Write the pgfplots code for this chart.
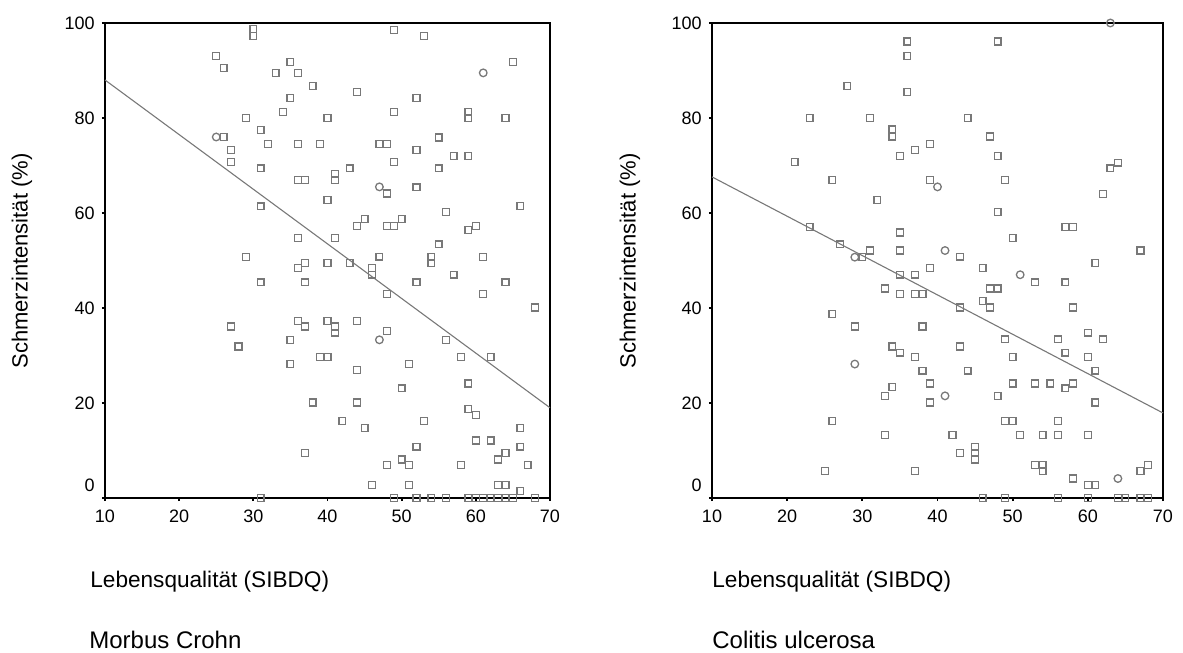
\documentclass[border=0pt]{standalone}
\usepackage{fontspec}
\setmainfont{Liberation Sans}
\usepackage{pgfplots}
\pgfplotsset{compat=1.18}

\definecolor{markgray}{RGB}{120,120,120}

% common look of both panels
\pgfplotsset{
  spss/.style={
    scale only axis,
    anchor=south west,
    height=237.5pt,
    xmin=10, xmax=70, ymin=0, ymax=100,
    xtick={10,20,...,70},
    ytick={20,40,60,80,100},
    extra y ticks={0},
    extra y tick style={yticklabel style={yshift=6.5pt}},
    tick pos=left,
    tick align=outside,
    major tick length=1.6pt,
    tick style={black, line width=0.9pt},
    axis line style={black, line width=0.9pt},
    tick label style={font=\fontsize{9}{10}\selectfont},
    /pgf/number format/assume math mode=true,
    xticklabel style={yshift=-1pt},
    clip=false,
  },
  sq/.style={only marks, mark=square, mark size=1.7pt, markgray, line width=0.65pt},
  ci/.style={only marks, mark=o, mark size=1.9pt, markgray, line width=0.65pt},
  fit/.style={no marks, markgray, line width=0.55pt},
}

\begin{document}
\begin{tikzpicture}
\path[use as bounding box] (0,0) rectangle (591.5pt,326.5pt);

% ---------- Morbus Crohn ----------
\begin{axis}[spss, at={(52.5pt,77.5pt)}, width=222.5pt]
\addplot[sq] coordinates {
(30,98.7) (30,97.3) (25,93) (26,90.5) (33,89.5) (35,91.8) (36,89.5) (38,86.7)
(35,84.2) (34,81.3) (29,80) (40,80) (26,76) (27,73.3) (27,70.7) (31,77.5)
(32,74.5) (36,74.5) (39,74.5) (31,69.4) (36,66.9) (37,66.9) (41,68.3) (41,66.9)
(40,62.7) (31,61.4) (36,54.7) (41,54.7)
(49,98.5) (53,97.3) (44,85.5) (52,84.2) (49,81.3) (59,81.3) (59,80) (64,80)
(65,91.8) (47,74.5) (48,74.5) (52,73.3) (55,75.9) (57,72) (59,72) (49,70.7)
(55,69.4) (43,69.4) (48,64.1) (52,65.4) (56,60.2) (66,61.5) (44,57.3) (45,58.7)
(48,57.3) (49,57.3) (50,58.7) (59,56.4) (60,57.3) (55,53.4) (47,50.8) (54,50.8)
(61,50.7)
(29,50.7) (36,48.4) (37,49.5) (40,49.5) (31,45.4) (37,45.4) (27,36.1) (28,31.9)
(36,37.3) (37,36.1) (40,37.3) (41,36.1) (41,34.8) (35,33.3) (35,28.2) (39,29.7)
(40,29.7) (38,20.1) (37,9.5) (31,0) (42,16.2)
(43,49.5) (46,48.4) (46,47) (54,49.5) (52,45.4) (57,47) (64,45.4) (48,42.9)
(61,42.9) (68,40.1) (44,37.3) (48,35.2) (56,33.3) (58,29.7) (62,29.7) (51,28.2)
(44,26.9) (50,23.1) (59,24.1) (44,20.1) (59,18.7) (60,17.5) (53,16.2) (45,14.7)
(66,14.7) (60,12.1) (62,12.1) (66,10.8) (52,10.8) (64,9.5) (63,8.1) (48,6.9)
(50,8.1) (51,6.9) (58,6.9) (67,6.9) (46,2.7) (51,2.7) (63,2.7) (64,2.7) (66,1.5)
(49,0) (52,0) (54,0) (56,0) (59,0) (60,0) (61,0) (62,0) (63,0) (64,0) (65,0) (68,0)
};
\addplot[ci] coordinates {(61,89.5) (25,76) (47,65.5) (47,33.3)};
\addplot[fit] coordinates {(10,88) (70,19)};
\end{axis}

% ---------- Colitis ulcerosa ----------
\begin{axis}[spss, at={(356pt,77.5pt)}, width=225.5pt]
\addplot[sq] coordinates {
(36,96.1) (36,93) (28,86.7) (36,85.5) (23,80) (31,80) (34,77.6) (34,76.1)
(21,70.7) (35,72) (37,73.3) (39,74.5) (26,66.9) (39,66.9) (32,62.7) (23,57.1)
(35,55.9) (35,52.1) (27,53.4) (31,52.1) (30,50.7)
(48,96.1) (44,80) (47,76.1) (48,72) (49,66.9) (63,69.4) (64,70.6) (62,64)
(48,60.2) (57,57.1) (58,57.1) (50,54.7) (67,52.1) (43,50.8)
(39,48.4) (33,44.1) (35,47) (37,47) (35,42.9) (37,42.9) (38,42.9) (26,38.7)
(29,36.1) (38,36.1) (34,31.9) (35,30.6) (37,29.7) (38,26.8) (39,24.1) (33,21.5)
(34,23.4) (39,20.1) (26,16.2) (33,13.3) (25,5.7) (37,5.7)
(46,48.4) (53,45.4) (57,45.4) (61,49.5) (47,44.1) (48,44.1) (46,41.5) (47,40.1)
(43,40.1) (58,40.1) (49,33.4) (56,33.4) (60,34.8) (62,33.4) (43,31.9) (57,30.6)
(50,29.7) (60,29.7) (44,26.8) (61,26.8) (50,24.1) (53,24.1) (55,24.1) (57,23.1)
(58,24.1) (48,21.5) (61,20.1) (49,16.2) (50,16.2) (56,16.2) (42,13.3) (51,13.3)
(54,13.3) (56,13.3) (60,13.3) (43,9.5) (45,10.8) (45,9.5) (45,8.1) (53,6.9)
(54,6.9) (54,5.7) (58,4.1) (60,2.7) (61,2.7) (67,5.7) (68,6.9)
(46,0) (49,0) (56,0) (60,0) (64,0) (65,0) (67,0) (68,0)
};
\addplot[ci] coordinates {(29,50.7) (29,28.2) (41,52.1) (41,21.5) (51,47) (40,65.5) (63,100) (64,4.1)};
\addplot[fit] coordinates {(10,67.6) (70,17.9)};
\end{axis}

% axis titles and panel names
\node[rotate=90, font=\fontsize{11}{13}\selectfont] at (11pt,196pt) {Schmerzintensität (\%)};
\node[rotate=90, font=\fontsize{11}{13}\selectfont] at (315pt,196pt) {Schmerzintensität (\%)};
\node[anchor=west, font=\fontsize{11.3}{13}\selectfont, inner sep=0pt] at (45pt,35.5pt) {Lebensqualität (SIBDQ)};
\node[anchor=west, font=\fontsize{11.3}{13}\selectfont, inner sep=0pt] at (356pt,35.5pt) {Lebensqualität (SIBDQ)};
\node[anchor=west, font=\fontsize{12}{14}\selectfont, inner sep=0pt] at (44.5pt,6.5pt) {Morbus Crohn};
\node[anchor=west, font=\fontsize{12}{14}\selectfont, inner sep=0pt] at (356pt,6.5pt) {Colitis ulcerosa};
\end{tikzpicture}
\end{document}
